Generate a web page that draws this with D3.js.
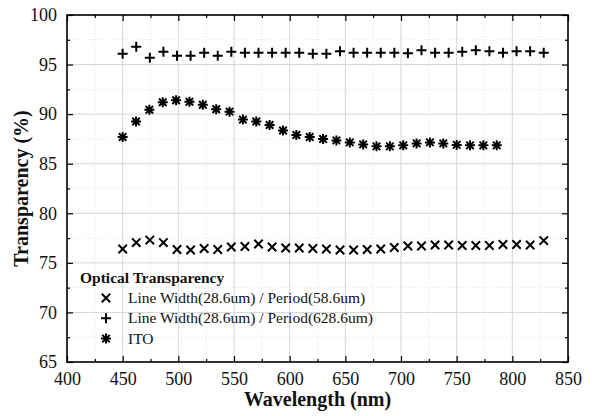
<!DOCTYPE html>
<html><head><meta charset="utf-8">
<script src="https://cdn.jsdelivr.net/npm/d3@7"></script>
<style>body{margin:0;background:#fff}svg{display:block}</style>
</head><body><svg id="c" width="596" height="416"></svg>
<script>
const wavelengths = [450, 462.2, 474.4, 486.6, 498.8, 511, 523.2, 535.4, 547.6, 559.8, 572, 584.2, 596.4, 608.6, 620.8, 633, 645.2, 657.4, 669.6, 681.8, 694, 706.2, 718.4, 730.6, 742.8, 755, 767.2, 779.4, 791.6, 803.8, 816, 828.2];
const itoWavelengths = [450, 462, 474, 486, 498, 510, 522, 534, 546, 558, 570, 582, 594, 606, 618, 630, 642, 654, 666, 678, 690, 702, 714, 726, 738, 750, 762, 774, 786];
const period58 = [76.4, 77.05, 77.3, 77.05, 76.35, 76.3, 76.45, 76.35, 76.6, 76.65, 76.9, 76.6, 76.5, 76.5, 76.45, 76.4, 76.3, 76.3, 76.35, 76.4, 76.55, 76.7, 76.7, 76.8, 76.8, 76.75, 76.75, 76.75, 76.85, 76.85, 76.8, 77.25];
const period628 = [96.1, 96.8, 95.7, 96.3, 95.9, 95.9, 96.2, 95.9, 96.3, 96.2, 96.2, 96.2, 96.2, 96.2, 96.1, 96.1, 96.35, 96.2, 96.2, 96.2, 96.2, 96.15, 96.45, 96.2, 96.2, 96.3, 96.45, 96.35, 96.2, 96.35, 96.35, 96.2];
const ito = [87.7, 89.25, 90.45, 91.2, 91.4, 91.25, 90.95, 90.5, 90.25, 89.45, 89.25, 88.9, 88.35, 87.9, 87.7, 87.5, 87.35, 87.15, 86.95, 86.75, 86.75, 86.85, 87.05, 87.15, 87.05, 86.9, 86.85, 86.85, 86.85];
const xTicks = [400, 450, 500, 550, 600, 650, 700, 750, 800, 850];
const yTicks = [65, 70, 75, 80, 85, 90, 95, 100];
const legendTitle = "Optical Transparency";
const seriesNames = ["Line Width(28.6um) / Period(58.6um)", "Line Width(28.6um) / Period(628.6um)", "ITO"];

const svg = d3.select("#c");
const L = 67, R = 568, T = 15, B = 362;
const x = d3.scaleLinear().domain([400, 850]).range([L, R]);
const y = d3.scaleLinear().domain([65, 100]).range([B, T]);
const xMinor = d3.range(425, 850, 50);
const yMinor = d3.range(67.5, 100, 5);

// grid
const g = svg.append("g");
g.selectAll(".vgm").data(xMinor).join("line").attr("x1", d => x(d)).attr("x2", d => x(d)).attr("y1", T).attr("y2", B)
  .attr("stroke", "#e3e3e3").attr("stroke-dasharray", "1,2");
g.selectAll(".hgm").data(yMinor).join("line").attr("y1", d => y(d)).attr("y2", d => y(d)).attr("x1", L).attr("x2", R)
  .attr("stroke", "#e3e3e3").attr("stroke-dasharray", "1,2");
g.selectAll(".vg").data(xTicks.slice(1, -1)).join("line").attr("x1", d => x(d)).attr("x2", d => x(d)).attr("y1", T).attr("y2", B)
  .attr("stroke", "#d6d6d6").attr("stroke-width", 1);
g.selectAll(".hg").data(yTicks.slice(1, -1)).join("line").attr("y1", d => y(d)).attr("y2", d => y(d)).attr("x1", L).attr("x2", R)
  .attr("stroke", "#d6d6d6").attr("stroke-width", 1);

// axes
const font = "'Liberation Serif','Times New Roman',serif";
function styleAxis(sel) {
  sel.select(".domain").remove();
  sel.selectAll("line").attr("stroke", "#000").attr("stroke-width", 1.2);
  sel.selectAll("text").attr("font-family", font).attr("font-size", 18).attr("fill", "#111");
}
svg.append("g").attr("transform", `translate(0,${B})`).call(d3.axisBottom(x).tickValues(xTicks).tickSize(-6).tickPadding(10).tickFormat(d3.format("d"))).call(styleAxis);
svg.append("g").attr("transform", `translate(0,${B})`).call(d3.axisBottom(x).tickValues(xMinor).tickSize(-3).tickFormat("")).call(styleAxis);
svg.append("g").attr("transform", `translate(0,${T})`).call(d3.axisTop(x).tickValues(xTicks).tickSize(-6).tickFormat("")).call(styleAxis);
svg.append("g").attr("transform", `translate(0,${T})`).call(d3.axisTop(x).tickValues(xMinor).tickSize(-3).tickFormat("")).call(styleAxis);
svg.append("g").attr("transform", `translate(${L},0)`).call(d3.axisLeft(y).tickValues(yTicks).tickSize(-6).tickPadding(10).tickFormat(d3.format("d"))).call(styleAxis);
svg.append("g").attr("transform", `translate(${L},0)`).call(d3.axisLeft(y).tickValues(yMinor).tickSize(-3).tickFormat("")).call(styleAxis);
svg.append("g").attr("transform", `translate(${R},0)`).call(d3.axisRight(y).tickValues(yTicks).tickSize(-6).tickFormat("")).call(styleAxis);
svg.append("g").attr("transform", `translate(${R},0)`).call(d3.axisRight(y).tickValues(yMinor).tickSize(-3).tickFormat("")).call(styleAxis);

svg.append("rect").attr("x", L).attr("y", T).attr("width", R - L).attr("height", B - T)
  .attr("fill", "none").attr("stroke", "#000").attr("stroke-width", 1.6);

// marker paths
function timesPath(cx, cy, r) { const p = d3.path(); p.moveTo(cx - r, cy - r); p.lineTo(cx + r, cy + r); p.moveTo(cx - r, cy + r); p.lineTo(cx + r, cy - r); return p.toString(); }
function plusPath(cx, cy, r) { const p = d3.path(); p.moveTo(cx - r, cy); p.lineTo(cx + r, cy); p.moveTo(cx, cy - r); p.lineTo(cx, cy + r); return p.toString(); }
function starPath(cx, cy, r) { const p = d3.path(); const k = r * 0.75;
  p.moveTo(cx - r, cy); p.lineTo(cx + r, cy); p.moveTo(cx, cy - r); p.lineTo(cx, cy + r);
  p.moveTo(cx - k, cy - k); p.lineTo(cx + k, cy + k); p.moveTo(cx - k, cy + k); p.lineTo(cx + k, cy - k); return p.toString(); }

const mk = svg.append("g").attr("stroke", "#000").attr("fill", "none").attr("stroke-width", 2);
mk.selectAll(".s1").data(period58).join("path").attr("d", (d, i) => timesPath(x(wavelengths[i]), y(d), 4.2));
mk.selectAll(".s2").data(period628).join("path").attr("d", (d, i) => plusPath(x(wavelengths[i]), y(d), 5));
mk.selectAll(".s3").data(ito).join("path").attr("d", (d, i) => starPath(x(itoWavelengths[i]), y(d), 5));

// legend
const lg = svg.append("g");
lg.append("text").attr("x", 80).attr("y", 283).attr("font-family", font).attr("font-weight", "bold").attr("font-size", 15.5).attr("fill", "#111").text(legendTitle);
const makers = [timesPath, plusPath, starPath];
const radii = [4.2, 5, 5];
seriesNames.forEach((n, i) => {
  const cy = 298 + i * 20.3;
  lg.append("path").attr("d", makers[i](106, cy, radii[i])).attr("stroke", "#000").attr("stroke-width", 2).attr("fill", "none");
  lg.append("text").attr("x", 128).attr("y", cy + 5).attr("font-family", font).attr("font-size", 15.5).attr("fill", "#111").text(n);
});

// titles
svg.append("text").attr("x", (L + R) / 2).attr("y", 406).attr("text-anchor", "middle").attr("font-family", font).attr("font-weight", "bold").attr("font-size", 20).attr("fill", "#111").text("Wavelength (nm)");
svg.append("text").attr("transform", `translate(28,${(T + B) / 2}) rotate(-90)`).attr("text-anchor", "middle").attr("font-family", font).attr("font-weight", "bold").attr("font-size", 20).attr("fill", "#111").text("Transparency (%)");
</script></body></html>
